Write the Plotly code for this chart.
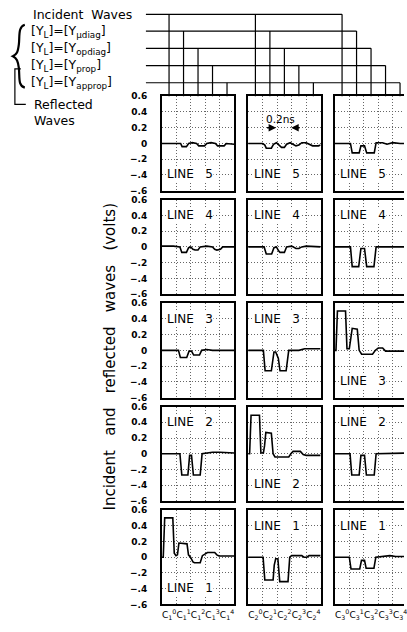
import plotly.graph_objects as go

W, H = 407, 632

# ---------------- data (time in divisions, voltage in volts) ----------------
tick_text_c1 = ["C<sub>1</sub><sup>0</sup>", "C<sub>1</sub><sup>1</sup>", "C<sub>1</sub><sup>2</sup>", "C<sub>1</sub><sup>3</sup>", "C<sub>1</sub><sup>4</sup>"]
tick_text_c2 = ["C<sub>2</sub><sup>0</sup>", "C<sub>2</sub><sup>1</sup>", "C<sub>2</sub><sup>2</sup>", "C<sub>2</sub><sup>3</sup>", "C<sub>2</sub><sup>4</sup>"]
tick_text_c3 = ["C<sub>3</sub><sup>0</sup>", "C<sub>3</sub><sup>1</sup>", "C<sub>3</sub><sup>2</sup>", "C<sub>3</sub><sup>3</sup>", "C<sub>3</sub><sup>4</sup>"]
tick_pos = [0.5, 1.5, 2.5, 3.5, 4.5]
y_tick_vals = [-0.6, -0.4, -0.2, 0, 0.2, 0.4, 0.6]
y_tick_text = ["\u2212.6", "\u2212.4", "\u2212.2", "0", "0.2", "0.4", "0.6"]
line_names = ["LINE 5", "LINE 4", "LINE 3", "LINE 2", "LINE 1"]

# column 1 (incident on line 1)
t_c1_l5 = [0, 1.0, 1.3, 1.4, 1.7, 1.85, 2.1, 2.4, 2.55, 2.95, 3.1, 3.4, 3.7, 3.85, 4.3, 4.45, 5.0]
v_c1_l5 = [0.0, 0.005, 0.0, -0.04, -0.04, 0.0, 0.01, 0.0, -0.03, -0.03, 0.0, 0.01, 0.0, -0.03, -0.03, 0.0, -0.01]
t_c1_l4 = [0, 0.8, 1.25, 1.38, 1.7, 1.85, 2.0, 2.15, 2.3, 2.5, 2.65, 3.1, 3.5, 3.65, 3.8, 4.05, 4.2, 5.0]
v_c1_l4 = [0.01, 0.01, 0.0, -0.07, -0.07, -0.01, 0.0, -0.03, -0.04, -0.04, 0.0, 0.01, 0.0, -0.03, -0.04, -0.03, 0.0, 0.0]
t_c1_l3 = [0, 1.15, 1.28, 1.72, 1.88, 2.05, 2.2, 2.6, 2.75, 3.1, 3.5, 4.0, 5.0]
v_c1_l3 = [0.0, 0.0, -0.09, -0.09, -0.01, -0.01, -0.06, -0.06, 0.0, 0.01, 0.0, 0.0, 0.0]
t_c1_l2 = [0, 1.25, 1.38, 1.8, 1.92, 2.05, 2.18, 2.65, 2.78, 3.2, 3.5, 4.0, 5.0]
v_c1_l2 = [0.0, 0.0, -0.27, -0.27, -0.02, -0.02, -0.27, -0.27, 0.0, 0.01, 0.02, 0.02, 0.01]
t_c1_l1 = [0, 0.1, 0.2, 0.76, 0.86, 0.98, 1.08, 1.18, 1.74, 1.84, 1.98, 2.15, 2.25, 2.65, 2.8, 3.05, 3.15, 3.65, 3.8, 3.95, 5.0]
v_c1_l1 = [0.0, 0.0, 0.5, 0.5, 0.05, 0.02, 0.03, 0.18, 0.17, 0.03, 0.0, -0.06, -0.07, -0.07, 0.02, 0.05, 0.06, 0.06, 0.03, 0.015, 0.015]

# column 2 (incident on line 2)
t_c2_l5 = [0, 1.0, 1.15, 1.25, 1.6, 1.75, 1.95, 2.15, 2.3, 2.5, 2.65, 2.9, 3.15, 3.3, 3.5, 3.7, 4.0, 4.3, 4.45, 4.85, 5.0]
v_c2_l5 = [0.0, 0.0, -0.02, -0.06, -0.06, -0.01, 0.01, -0.02, -0.05, -0.05, -0.01, 0.01, -0.02, -0.03, -0.02, 0.01, 0.01, -0.01, -0.03, -0.03, -0.02]
t_c2_l4 = [0, 1.1, 1.25, 1.62, 1.78, 1.95, 2.1, 2.2, 2.5, 2.65, 3.0, 3.3, 3.5, 3.7, 4.0, 5.0]
v_c2_l4 = [0.0, 0.0, -0.09, -0.09, -0.01, 0.0, -0.05, -0.07, -0.07, 0.0, 0.01, -0.02, -0.02, 0.0, 0.01, 0.0]
t_c2_l3 = [0, 1.05, 1.17, 1.6, 1.78, 1.9, 2.08, 2.2, 2.62, 2.8, 3.5, 3.9, 5.0]
v_c2_l3 = [0.0, 0.0, -0.26, -0.26, -0.02, -0.02, -0.1, -0.26, -0.26, 0.0, 0.0, 0.02, 0.02]
t_c2_l2 = [0, 0.1, 0.2, 0.78, 0.88, 1.05, 1.13, 1.22, 1.6, 1.72, 1.85, 2.8, 2.95, 3.1, 3.6, 3.8, 4.0, 5.0]
v_c2_l2 = [0.0, 0.0, 0.49, 0.49, 0.01, 0.01, 0.1, 0.27, 0.26, 0.0, -0.04, -0.04, 0.0, 0.03, 0.03, -0.01, -0.02, -0.02]
t_c2_l1 = [0, 1.03, 1.15, 1.72, 1.8, 1.9, 2.05, 2.18, 2.75, 2.87, 3.0, 3.7, 3.85, 4.05, 4.2, 5.0]
v_c2_l1 = [0.0, 0.0, -0.29, -0.29, -0.1, -0.02, -0.02, -0.31, -0.31, 0.0, 0.02, 0.02, 0.0, 0.0, 0.02, 0.02]

# column 3 (incident on line 3)
t_c3_l5 = [0, 1.08, 1.2, 1.68, 1.8, 2.05, 2.2, 2.72, 2.85, 3.3, 3.6, 4.0, 4.5, 5.0]
v_c3_l5 = [0.0, 0.0, -0.12, -0.12, -0.03, -0.03, -0.12, -0.12, 0.01, 0.01, -0.01, 0.01, 0.0, 0.0]
t_c3_l4 = [0, 1.08, 1.2, 1.65, 1.8, 2.05, 2.2, 2.7, 2.85, 5.0]
v_c3_l4 = [0.0, 0.0, -0.25, -0.25, -0.02, -0.02, -0.25, -0.25, 0.0, 0.0]
t_c3_l3 = [0, 0.08, 0.18, 0.74, 0.84, 1.0, 1.1, 1.2, 1.55, 1.68, 1.85, 2.6, 2.8, 3.0, 3.3, 3.5, 5.0]
v_c3_l3 = [0.0, 0.0, 0.5, 0.5, 0.02, 0.02, 0.15, 0.28, 0.27, 0.0, -0.05, -0.05, 0.0, 0.03, 0.03, -0.01, -0.01]
t_c3_l2 = [0, 1.05, 1.17, 1.68, 1.8, 2.05, 2.18, 2.72, 2.85, 5.0]
v_c3_l2 = [0.0, 0.0, -0.27, -0.27, -0.02, -0.02, -0.27, -0.27, 0.0, 0.01]
t_c3_l1 = [0, 1.0, 1.12, 1.72, 1.84, 2.05, 2.16, 2.7, 2.83, 3.5, 3.8, 4.2, 5.0]
v_c3_l1 = [0.0, 0.0, -0.15, -0.15, -0.04, -0.04, -0.14, -0.14, 0.0, 0.01, 0.02, 0.01, 0.01]

# label placement: True = label near top of the panel, False = near bottom
label_top_c1 = [False, True, True, True, False]
label_top_c2 = [False, True, True, False, True]
label_top_c3 = [False, True, False, True, True]

schematic_labels = ["Incident Waves",
                    "[Y<sub>L</sub>]=[Y<sub>\u03bcdiag</sub>]",
                    "[Y<sub>L</sub>]=[Y<sub>opdiag</sub>]",
                    "[Y<sub>L</sub>]=[Y<sub>prop</sub>]",
                    "[Y<sub>L</sub>]=[Y<sub>approp</sub>]"]

# ---------------- layout geometry ----------------
FONT = "DejaVu Sans"
GRID = "#666"
GRID_DASH = "1px,2px"
col_left = [163.0, 250.0, 337.3]
div_px = 14.6
col_w = 5 * div_px
row_top = [92.7 + 105.1 * k for k in range(5)]
row_h = 96.0
sched_y = [9.5, 26.5, 44.0, 61.5, 79.0]
sched_x0 = 147.0


def px(x):
    return x / W


def py(y):
    return 1 - y / H


columns = [
    ([(t_c1_l5, v_c1_l5), (t_c1_l4, v_c1_l4), (t_c1_l3, v_c1_l3), (t_c1_l2, v_c1_l2), (t_c1_l1, v_c1_l1)], tick_text_c1, label_top_c1),
    ([(t_c2_l5, v_c2_l5), (t_c2_l4, v_c2_l4), (t_c2_l3, v_c2_l3), (t_c2_l2, v_c2_l2), (t_c2_l1, v_c2_l1)], tick_text_c2, label_top_c2),
    ([(t_c3_l5, v_c3_l5), (t_c3_l4, v_c3_l4), (t_c3_l3, v_c3_l3), (t_c3_l2, v_c3_l2), (t_c3_l1, v_c3_l1)], tick_text_c3, label_top_c3),
]

fig = go.Figure()
layout = {}
annotations = []
shapes = []

for c, (series, ttext, ltop) in enumerate(columns):
    L = col_left[c]
    R = min(L + col_w, W)
    xmax = min(5.0, (W - L) / div_px)
    for r in range(5):
        i = r * 3 + c + 1
        sfx = "" if i == 1 else str(i)
        t, v = series[r]
        fig.add_trace(go.Scatter(x=t, y=v, mode="lines",
                                 line=dict(color="black", width=1.6),
                                 xaxis="x" + sfx, yaxis="y" + sfx,
                                 showlegend=False, hoverinfo="skip"))
        top = row_top[r]
        bot = top + row_h
        layout["xaxis" + sfx] = dict(
            domain=[px(L), px(R)], range=[0, xmax], anchor="y" + sfx,
            showline=True, linecolor="black", linewidth=1.5, mirror=True,
            showgrid=False, zeroline=False, ticks="",
            tickmode="array", tickvals=tick_pos, ticktext=ttext, tickangle=0,
            showticklabels=(r == 4), ticklabelstandoff=1, ticklabeloverflow="allow",
            tickfont=dict(family=FONT, size=9, color="black"),
            minor=dict(tickmode="array", tickvals=[1, 2, 3, 4], showgrid=True,
                       gridcolor=GRID, griddash=GRID_DASH, gridwidth=1, ticks=""),
            fixedrange=True)
        layout["yaxis" + sfx] = dict(
            domain=[py(bot), py(top)], range=[-0.6, 0.6], anchor="x" + sfx,
            showline=True, linecolor="black", linewidth=1.5, mirror=(c < 2),
            showgrid=True, gridcolor=GRID, griddash=GRID_DASH, gridwidth=1,
            zeroline=False, ticks="",
            tickmode="array", tickvals=y_tick_vals, ticktext=y_tick_text,
            showticklabels=(c == 0), ticklabelstandoff=11,
            tickfont=dict(family=FONT, size=9, color="black", weight="bold"),
            fixedrange=True)
        annotations.append(dict(
            x=0.3, y=(0.40 if ltop[r] else -0.39), xref="x" + sfx, yref="y" + sfx,
            text=line_names[r].replace(" ", "\u00a0\u00a0\u00a0"), showarrow=False,
            xanchor="left", yanchor="middle", bgcolor="white", borderpad=0,
            font=dict(family=FONT, size=12, color="black")))
        # schematic drops from the wave lines to the top row
        if r == 0:
            for j in range(5):
                shapes.append(dict(type="line", xref="x" + sfx, yref="paper",
                                   x0=tick_pos[j], x1=tick_pos[j],
                                   y0=py(sched_y[j]), y1=py(top),
                                   line=dict(color="black", width=1.2)))

# horizontal schematic lines
for j in range(5):
    x_end = col_left[2] + tick_pos[j] * div_px
    shapes.append(dict(type="line", xref="paper", yref="paper",
                       x0=px(sched_x0), x1=px(x_end), y0=py(sched_y[j]), y1=py(sched_y[j]),
                       line=dict(color="black", width=1.2)))
    annotations.append(dict(x=px(31 if j == 0 else 29), y=py(sched_y[j]), xref="paper", yref="paper",
                            text=schematic_labels[j].replace(" ", "\u00a0\u00a0") if j == 0 else schematic_labels[j],
                            showarrow=False, xanchor="left", yanchor="middle",
                            font=dict(family=FONT, size=12.5, color="black")))


def path(pts_cmd):
    out = []
    for item in pts_cmd:
        if isinstance(item, str):
            out.append(item)
        else:
            out.append(f"{px(item[0]):.5f},{py(item[1]):.5f}")
    return " ".join(out)


# curly brace
brace = path(["M", (25, 20), "C", (18, 22), (20, 32), (19, 40), "C", (18, 48), (17, 50), (13, 52),
              "C", (17, 54), (18, 57), (19, 64), "C", (20, 74), (18, 82), (25, 84)])
shapes.append(dict(type="path", xref="paper", yref="paper", path=brace,
                   line=dict(color="black", width=2.2)))
# bracket for reflected waves
bracket = path(["M", (21, 65), "L", (15, 65), "L", (15, 101), "L", (26, 101)])
shapes.append(dict(type="path", xref="paper", yref="paper", path=bracket,
                   line=dict(color="black", width=1.2)))
annotations.append(dict(x=px(32), y=py(101), xref="paper", yref="paper", text="Reflected",
                        showarrow=False, xanchor="left", yanchor="middle",
                        font=dict(family=FONT, size=12.5, color="black")))
annotations.append(dict(x=px(32), y=py(117), xref="paper", yref="paper", text="Waves",
                        showarrow=False, xanchor="left", yanchor="middle",
                        font=dict(family=FONT, size=12.5, color="black")))

# y axis title
annotations.append(dict(x=px(111), y=py(357), xref="paper", yref="paper",
                        text="Incident\u00a0\u00a0\u00a0and\u00a0\u00a0\u00a0reflected\u00a0\u00a0\u00a0waves\u00a0\u00a0\u00a0(volts)",
                        textangle=-90, showarrow=False, xanchor="center", yanchor="middle",
                        font=dict(family=FONT, size=15, color="black")))

# 0.2 ns marker in column 2, top row
annotations.append(dict(x=2.2, y=0.31, xref="x2", yref="y2", text="0.2ns", showarrow=False,
                        font=dict(family=FONT, size=10.5, color="black")))
annotations.append(dict(x=1.93, y=0.2, xref="x2", yref="y2", ax=1.2, ay=0.2, axref="x2", ayref="y2",
                        text="", showarrow=True, arrowhead=2, arrowsize=1, arrowwidth=1.5, arrowcolor="black"))
annotations.append(dict(x=2.97, y=0.2, xref="x2", yref="y2", ax=3.65, ay=0.2, axref="x2", ayref="y2",
                        text="", showarrow=True, arrowhead=2, arrowsize=1, arrowwidth=1.5, arrowcolor="black"))

fig.update_layout(width=W, height=H, margin=dict(l=0, r=0, t=0, b=0),
                  paper_bgcolor="white", plot_bgcolor="white", showlegend=False,
                  annotations=annotations, shapes=shapes, **layout)

fig.write_html("out.html", config={"displayModeBar": False},
               post_script="document.body.style.margin='0';document.body.style.overflow='hidden';")
